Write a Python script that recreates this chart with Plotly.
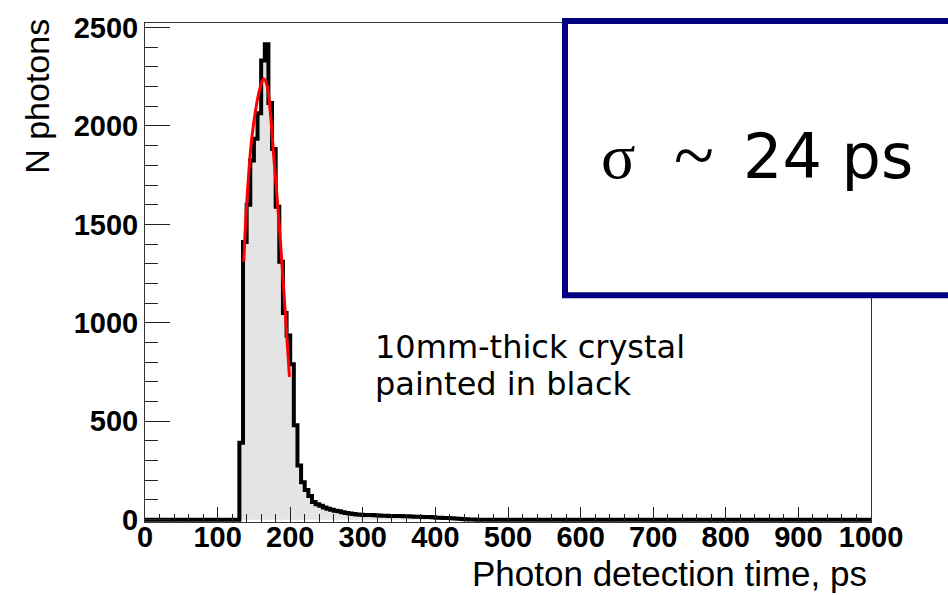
import numpy as np
import plotly.graph_objects as go

# ---------------- data ----------------
bin_width_ps = 5
hist_range = [0, 1000]
first_bin_ps = 130
counts = [
    390, 1410, 1600, 1825, 1935, 2065, 2333, 2415, 2117, 1883,   # 130-175
    1590, 1310, 1050, 935, 790, 480, 275, 190, 150, 120,          # 180-225
    90, 78, 70, 62, 55, 50, 45, 42, 38, 34,                       # 230-275
    31, 29, 26, 25, 24, 23, 23, 22, 21, 20,                       # 280-325
    20, 19, 19, 18, 18, 17, 17, 16, 15, 15,                       # 330-375
    14, 14, 13, 12, 10, 9, 8, 8, 7, 6,                            # 380-425
    4, 3, 2, 1, 1,                                                # 430-450
]
fit_t = [136, 140, 146.5, 154, 159, 163.5, 168, 172.5, 177, 182, 188.5, 193, 199]
fit_n = [1310, 1600, 1917, 2117, 2200, 2240, 2208, 2075, 1860, 1635, 1310, 1060, 725]

x_ticks = list(range(0, 1001, 100))
y_ticks = list(range(0, 2501, 500))
x_title = "Photon detection time, ps"
y_title = "N photons"
note_lines = ["10mm-thick crystal", "painted in black"]
sigma_text = ["σ", "~", "24 ps"]

# ---------------- build histogram outline ----------------
edges = np.arange(hist_range[0], hist_range[1] + bin_width_ps, bin_width_ps)
full = np.zeros(len(edges) - 1)
i0 = int((first_bin_ps - hist_range[0]) / bin_width_ps)
full[i0:i0 + len(counts)] = counts
step_y = np.append(full, full[-1])

W, H = 948, 595
ML, MR, MT, MB = 145, 77, 15, 73
PW, PH = W - ML - MR, H - MT - MB


def px(xpix):
    return (xpix - ML) / PW


def py(ypix):
    return 1 - (ypix - MT) / PH


fig = go.Figure()
fig.add_trace(go.Scatter(
    x=edges, y=step_y, mode="lines", line=dict(shape="hv", color="black", width=4),
    fill="tozeroy", fillcolor="#e4e4e4", hoverinfo="skip", showlegend=False))
fig.add_trace(go.Scatter(
    x=fit_t, y=fit_n, mode="lines", line=dict(shape="spline", color="#ff0000", width=3),
    hoverinfo="skip", showlegend=False))

tickfont = dict(family="Liberation Sans", size=29, color="black", weight="bold")
fig.update_xaxes(
    range=hist_range, tickvals=x_ticks, ticktext=[str(v) for v in x_ticks],
    ticks="inside", ticklen=15, tickwidth=1, tickcolor="#222",
    minor=dict(dtick=20, ticks="inside", ticklen=8, tickwidth=1, tickcolor="#222"),
    showline=True, linecolor="#333", linewidth=1, mirror=True,
    showgrid=False, zeroline=False, tickfont=tickfont, ticklabelstandoff=-11)
fig.update_yaxes(
    range=[-12, 2523], tickvals=y_ticks, ticktext=[str(v) for v in y_ticks],
    ticks="inside", ticklen=25, tickwidth=1, tickcolor="#222",
    minor=dict(dtick=100, ticks="inside", ticklen=13, tickwidth=1, tickcolor="#222"),
    showline=True, linecolor="#333", linewidth=1, mirror=True,
    showgrid=False, zeroline=False, tickfont=tickfont)

annotations = [
    dict(text=x_title, x=px(869), y=py(574), xanchor="right", yanchor="middle",
         font=dict(family="Liberation Sans", size=35, color="black")),
    dict(text=y_title, x=px(37), y=py(90), xanchor="center", yanchor="middle", textangle=-90,
         font=dict(family="Liberation Sans", size=34, color="black")),
    dict(text=note_lines[0], x=px(373), y=py(344), xanchor="left", yanchor="middle",
         font=dict(family="DejaVu Sans", size=32, color="black")),
    dict(text=note_lines[1], x=px(373), y=py(382), xanchor="left", yanchor="middle",
         font=dict(family="DejaVu Sans", size=32, color="black")),
    dict(text=sigma_text[0], x=px(599), y=py(151), xanchor="left", yanchor="middle",
         font=dict(family="Liberation Serif", size=64, color="black")),
    dict(text=sigma_text[1], x=px(672), y=py(149), xanchor="left", yanchor="middle",
         font=dict(family="Liberation Serif", size=74, color="black")),
    dict(text=sigma_text[2], x=px(741), y=py(151), xanchor="left", yanchor="middle",
         font=dict(family="DejaVu Sans", size=62, color="black")),
]
for a in annotations:
    a.update(xref="paper", yref="paper", showarrow=False)

fig.update_layout(
    width=W, height=H, margin=dict(l=ML, r=MR, t=MT, b=MB),
    paper_bgcolor="white", plot_bgcolor="white",
    annotations=annotations,
    shapes=[dict(type="rect", xref="paper", yref="paper",
                 x0=px(565), x1=px(990), y0=py(291.5), y1=py(13),
                 line=dict(color="#000080", width=6), fillcolor="white", layer="above")],
)

fig.write_html("out.html")
